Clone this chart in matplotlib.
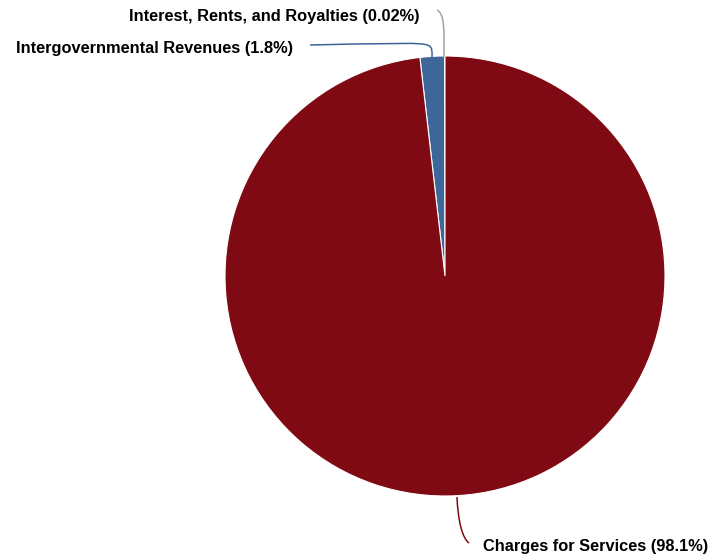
import matplotlib.pyplot as plt
from matplotlib.path import Path
from matplotlib.patches import PathPatch

labels = ["Interest, Rents, and Royalties", "Intergovernmental Revenues", "Charges for Services"]
shares = [0.02, 1.8, 98.1]
colors = ["#a3a3a3", "#3d6699", "#800a14"]

W, H = 711, 559
fig = plt.figure(figsize=(W / 100, H / 100), dpi=100)
ax = fig.add_axes([0, 0, 1, 1])

cx, cy, r = 445, H - 276, 220
ax.pie(shares, colors=colors, startangle=90, counterclock=True,
       center=(cx, cy), radius=r,
       wedgeprops=dict(edgecolor="white", linewidth=0.8))
ax.set_xlim(0, W)
ax.set_ylim(0, H)
ax.set_aspect("auto")
ax.axis("off")


def leader(pts, color):
    # pts in pixel coords from the top-left; cubic bezier segments
    verts = [(x, H - y) for x, y in pts]
    codes = [Path.MOVETO] + [Path.CURVE4] * (len(verts) - 1)
    ax.add_patch(PathPatch(Path(verts, codes), fill=False, edgecolor=color, lw=1.1))


leader([(444, 57), (444, 30), (445, 14), (437, 10)], colors[0])
leader([(432, 57), (432, 45), (434, 43), (400, 43.5),
        (370, 44), (340, 44), (310, 45)], colors[1])
leader([(457, 497), (458, 520), (462, 538), (469, 543)], colors[2])

font = dict(fontsize=11.8, fontweight="bold", family="Liberation Sans", color="black")
ax.text(420, H - 16, f"{labels[0]} ({shares[0]:.2f}%)", ha="right", va="center", **font)
ax.text(293, H - 48, f"{labels[1]} ({shares[1]:.1f}%)", ha="right", va="center", **font)
ax.text(483, H - 546, f"{labels[2]} ({shares[2]:.1f}%)", ha="left", va="center", **font)

fig.savefig("out.png", dpi=100)
